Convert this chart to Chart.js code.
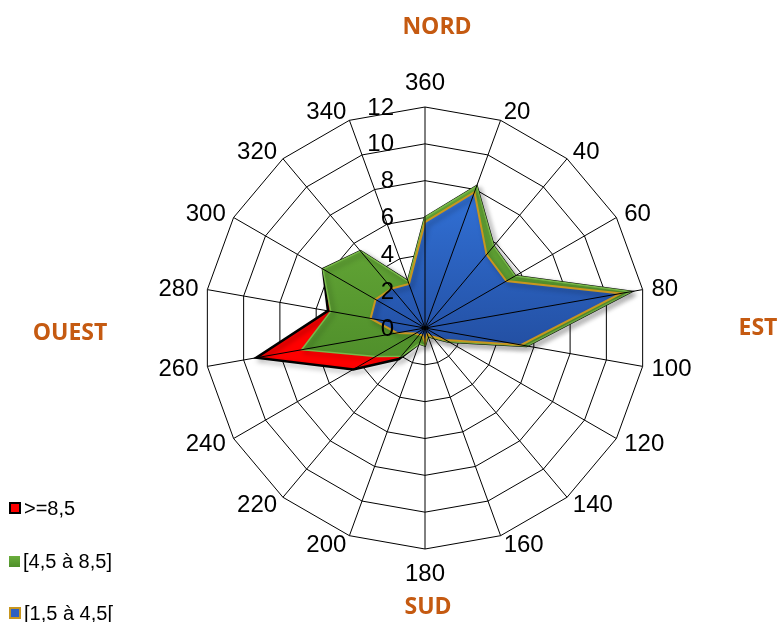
<!DOCTYPE html>
<html>
<head>
<meta charset="utf-8">
<script src="https://cdn.jsdelivr.net/npm/chart.js@4.4.0/dist/chart.umd.min.js"></script>
<style>
  html, body { margin: 0; padding: 0; background: #fff; }
  #wrap { position: relative; width: 781px; height: 622px; overflow: hidden; }
  .item {
    position: absolute; left: 9px; height: 22px; line-height: 22px;
    font-family: "Liberation Sans", Arial, sans-serif; font-size: 20px; color: #000;
    white-space: nowrap; display: flex; align-items: center;
  }
  .box { width: 8px; height: 8px; margin-right: 3px; }
</style>
</head>
<body>
<div id="wrap">
  <canvas id="radar" width="781" height="622"></canvas>
  <div class="item" style="top:497px"><span class="box" style="background:#f00;border:2px solid #000"></span>&gt;=8,5</div>
  <div class="item" style="top:550px"><span class="box" style="width:11px;height:11px;background:linear-gradient(#6aae3c,#4f8f2a)"></span>[4,5 à 8,5]</div>
  <div class="item" style="top:602px"><span class="box" style="background:#2d60c2;border:2px solid #c8961e"></span>[1,5 à 4,5[</div>
</div>
<script>
// wind directions (degrees), starting at north and going clockwise
const directions = ["360", "20", "40", "60", "80", "100", "120", "140", "160", "180",
  "200", "220", "240", "260", "280", "300", "320", "340"];

// one value per direction
const strong = [6.0, 8.2, 5.8, 5.65, 11.35, 5.6, 1.5, 0.7, 0.45, 0.95,
  0.9, 2.2, 4.5, 9.3, 5.35, 6.4, 5.45, 2.7];       // >=8,5
const medium = [6.0, 8.2, 5.8, 5.65, 11.35, 5.6, 1.5, 0.7, 0.45, 0.95,
  0.9, 2.0, 3.1, 6.8, 5.2, 6.4, 5.45, 2.7];        // [4,5 à 8,5]
const light = [5.75, 7.85, 5.2, 5.1, 10.8, 5.3, 1.3, 0.6, 0.35, 0.8,
  0.4, 0.5, 0.6, 1.55, 3.0, 3.1, 2.8, 2.55];       // [1,5 à 4,5[

const radialTicks = [0, 2, 4, 6, 8, 10, 12];
const compass = [
  { text: "NORD", dx: 12, dy: -301 },
  { text: "EST", dx: 333, dy: 0 },
  { text: "SUD", dx: 3, dy: 279 },
  { text: "OUEST", dx: -355, dy: 5 },
];

// vertical gradient fill like the Excel shapes
function shapeFill(top, bottom, from, to) {
  return function (context) {
    const chart = context.chart;
    const s = chart.scales.r;
    if (!s || !s.drawingArea) return top;
    const g = chart.ctx.createLinearGradient(0, s.yCenter - s.drawingArea * from, 0, s.yCenter + s.drawingArea * to);
    g.addColorStop(0, top);
    g.addColorStop(1, bottom);
    return g;
  };
}

// soft shadow under each filled series
const shadowPlugin = {
  id: "shadow",
  beforeDatasetDraw(chart) {
    const ctx = chart.ctx;
    ctx.save();
    ctx.shadowColor = "rgba(0,0,0,0.35)";
    ctx.shadowBlur = 5;
    ctx.shadowOffsetX = 3;
    ctx.shadowOffsetY = 3;
  },
  afterDatasetDraw(chart) {
    chart.ctx.restore();
  },
};

// spokes and value labels go on top of the filled areas
const overlayPlugin = {
  id: "overlay",
  afterDatasetsDraw(chart) {
    const s = chart.scales.r;
    const ctx = chart.ctx;
    ctx.save();
    ctx.strokeStyle = "#000";
    ctx.lineWidth = 1;
    for (let i = 0; i < directions.length; i++) {
      const p = s.getPointPositionForValue(i, s.max);
      ctx.beginPath();
      ctx.moveTo(s.xCenter, s.yCenter);
      ctx.lineTo(p.x, p.y);
      ctx.stroke();
    }
    ctx.fillStyle = "#000";
    ctx.font = '24px "Liberation Sans", Arial, sans-serif';
    ctx.textAlign = "right";
    ctx.textBaseline = "middle";
    s.ticks.forEach((t) => {
      const y = s.yCenter - s.getDistanceFromCenterForValue(t.value);
      ctx.fillText(String(t.value), s.xCenter - 31, y + 1);
    });
    ctx.restore();
  },
  afterDraw(chart) {
    const s = chart.scales.r;
    const ctx = chart.ctx;
    ctx.save();
    // direction labels placed the way Excel does it
    ctx.fillStyle = "#000";
    ctx.font = '24px "Liberation Sans", Arial, sans-serif';
    ctx.textBaseline = "middle";
    for (let i = 0; i < directions.length; i++) {
      const p = s.getPointPositionForValue(i, s.max);
      const a = s.getIndexAngle(i);
      const sin = Math.sin(a);
      const cos = Math.cos(a);
      if (Math.abs(sin) < 0.01) {
        ctx.textAlign = "center";
        ctx.fillText(directions[i], p.x, p.y - Math.sign(cos) * 24.5 + 1);
      } else {
        ctx.textAlign = sin > 0 ? "left" : "right";
        ctx.fillText(directions[i], p.x + sin * 9, p.y - cos * 9 + 1);
      }
    }
    ctx.fillStyle = "#C55A11";
    ctx.font = 'bold 23px "Open Sans", sans-serif';
    ctx.textAlign = "center";
    compass.forEach((c) => ctx.fillText(c.text, s.xCenter + c.dx, s.yCenter + c.dy));
    ctx.restore();
  },
};

new Chart(document.getElementById("radar"), {
  type: "radar",
  data: {
    labels: directions,
    datasets: [
      {
        label: ">=8,5",
        data: strong,
        backgroundColor: "#ff0000",
        borderColor: "#000",
        borderWidth: 2.5,
        order: 3,
      },
      {
        label: "[4,5 à 8,5]",
        data: medium,
        backgroundColor: shapeFill("#6aae3a", "#4e8d2a", 0.65, 0.2),
        borderColor: "#78b84a",
        borderWidth: 1.5,
        order: 2,
      },
      {
        label: "[1,5 à 4,5[",
        data: light,
        backgroundColor: shapeFill("#3272d8", "#234fa2", 0.65, 0.1),
        borderColor: "#c8961e",
        borderWidth: 2,
        order: 1,
      },
    ],
  },
  options: {
    responsive: false,
    animation: false,
    layout: { padding: { left: 150, right: 81, top: 107, bottom: 73 } },
    elements: {
      point: { radius: 0, hoverRadius: 0 },
      line: { tension: 0, fill: true },
    },
    plugins: {
      legend: { display: false },
      tooltip: { enabled: false },
    },
    scales: {
      r: {
        min: 0,
        max: 12,
        afterBuildTicks: (scale) => {
          scale.ticks = radialTicks.map((v) => ({ value: v }));
        },
        ticks: { display: false },
        angleLines: { display: false },
        grid: { color: "#000", lineWidth: 1 },
        pointLabels: { display: false },
      },
    },
  },
  plugins: [shadowPlugin, overlayPlugin],
});
</script>
</body>
</html>
